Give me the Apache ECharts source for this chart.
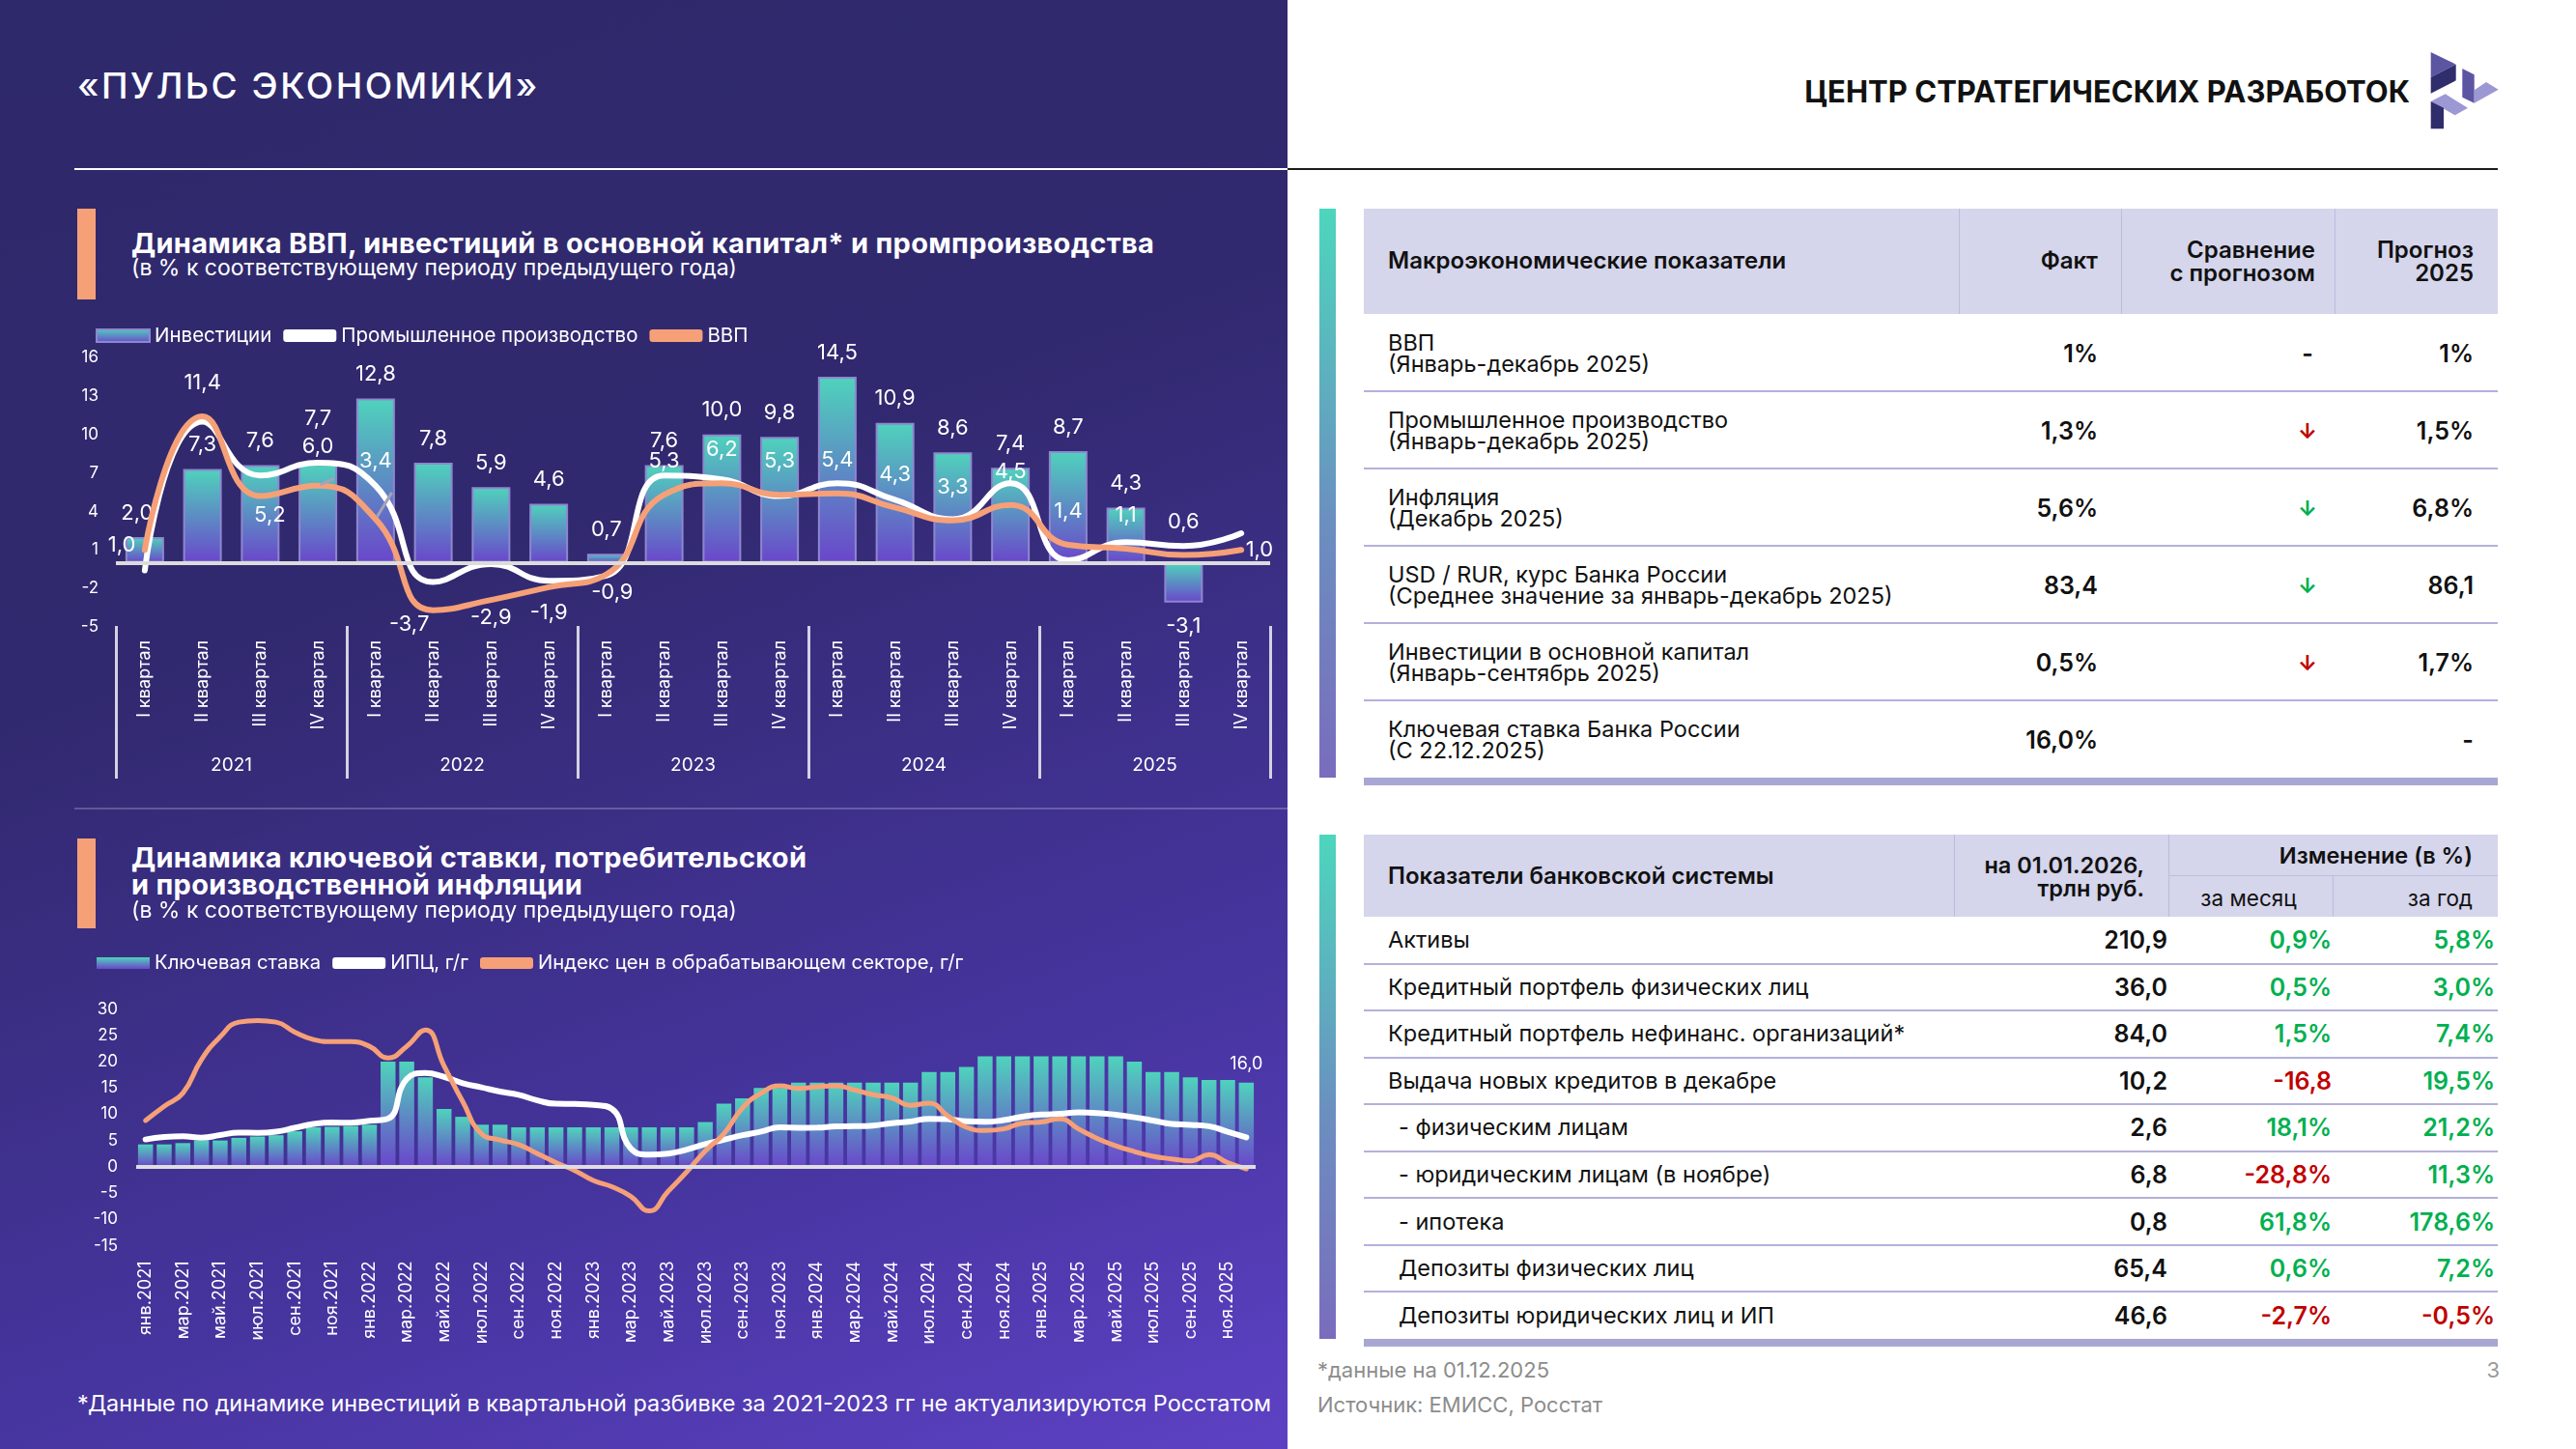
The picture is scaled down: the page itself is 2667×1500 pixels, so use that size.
<!DOCTYPE html>
<html lang="ru">
<head>
<meta charset="utf-8">
<title>Пульс экономики</title>
<script src="https://cdn.jsdelivr.net/npm/echarts@6.0.0/dist/echarts.min.js"></script>
<style>
  html, body { margin: 0; padding: 0; }
  body {
    width: 2667px; height: 1500px; position: relative; overflow: hidden;
    background: #fff; font-family: Inter, "Noto Sans", sans-serif;
  }
  .abs { position: absolute; white-space: nowrap; line-height: 1; }
  #left {
    position: absolute; left: 0; top: 0; width: 1333px; height: 1500px;
    background: linear-gradient(160deg, #2e296b 0%, #31296f 38%, #4735a0 75%, #5d41c4 100%);
  }
  #c1 { position: absolute; left: 0; top: 300px; width: 1333px; height: 530px; }
  #c2 { position: absolute; left: 0; top: 950px; width: 1333px; height: 450px; }
</style>
</head>
<body>
<div id="left"></div>
<div id="c1"></div>
<div id="c2"></div>

<svg class="abs" style="left:0;top:0" width="2667" height="160">
  <polygon points="2516.7,54 2542.7,66.7 2516.7,80" fill="#5b55a2"/>
  <polygon points="2516.7,80 2542.7,66.7 2542.7,83.3 2516.7,96.7" fill="#302d6c"/>
  <polygon points="2516.7,105 2531.7,97.3 2555,111.7 2541.7,119.3" fill="#9c98d4"/>
  <polygon points="2516.7,105 2530,111.7 2530,133.3 2516.7,133.3" fill="#302d6c"/>
  <polygon points="2549.3,71 2561.7,77.3 2561.7,106.7 2549.3,100.7" fill="#5b55a2"/>
  <polygon points="2561.7,93.3 2574,85 2586.7,92.7 2561.7,106.7" fill="#9c98d4"/>
</svg>

<script>
const FONT = 'Inter, "Noto Sans", sans-serif';

// ---- top chart: GDP, investments, industry (% y/y) ----
const quarterNames = ['I квартал', 'II квартал', 'III квартал', 'IV квартал'];
const years = ['2021', '2022', '2023', '2024', '2025'];
const investments = [2.0, 7.3, 7.6, 7.7, 12.8, 7.8, 5.9, 4.6, 0.7, 7.6,
                     10.0, 9.8, 14.5, 10.9, 8.6, 7.4, 8.7, 4.3, -3.1, null];
const industry = [-0.6, 11.0, 6.8, 7.8, 6.0, -1.5, -0.1, -1.4, -1.0, 6.8,
                  6.5, 5.2, 6.2, 4.9, 3.4, 6.2, 0.2, 1.6, 1.3, 2.3];
const gdp = [1.0, 11.4, 5.2, 6.0, 3.4, -3.7, -2.9, -1.9, -0.9, 5.3,
             6.2, 5.3, 5.4, 4.3, 3.3, 4.5, 1.4, 1.1, 0.6, 1.0];

// ---- bottom chart: key rate, CPI, manufacturing PPI ----
const monthNames = ['янв', 'фев', 'мар', 'апр', 'май', 'июн', 'июл', 'авг', 'сен', 'окт', 'ноя', 'дек'];
const keyRate = [4.25, 4.25, 4.5, 5.0, 5.0, 5.5, 5.75, 6.0, 6.75, 7.5, 7.6, 7.75,
                 8.0, 20, 20, 17, 11, 9.5, 8, 8, 7.5, 7.5, 7.5, 7.5,
                 7.5, 7.5, 7.5, 7.5, 7.5, 7.5, 8.5, 12, 13, 15, 15, 16,
                 16, 16, 16, 16, 16, 16, 18, 18, 19, 21, 21, 21,
                 21, 21, 21, 21, 21, 20, 18, 18, 17, 16.5, 16.5, 16];
const cpi = [5.19, 5.67, 5.79, 5.53, 6.02, 6.5, 6.46, 6.68, 7.4, 8.13, 8.4, 8.39,
             8.73, 9.15, 16.69, 17.83, 17.1, 15.9, 15.1, 14.3, 13.68, 12.63, 11.98, 11.94,
             11.77, 10.99, 3.51, 2.31, 2.51, 3.25, 4.3, 5.15, 6.0, 6.69, 7.48, 7.42,
             7.44, 7.69, 7.72, 7.84, 8.3, 8.59, 9.13, 9.05, 8.63, 8.54, 8.88, 9.52,
             9.92, 10.06, 10.34, 10.23, 9.88, 9.4, 8.79, 8.14, 7.98, 7.71, 6.64, 5.6];
const ppi = [8.8, 11.5, 14.0, 20.4, 24.7, 27.5, 27.8, 27.5, 25.6, 24.2, 23.8, 23.8,
             22.9, 20.7, 22.9, 26.0, 19.2, 12.4, 6.3, 5.1, 4.2, 2.5, 0.8, -0.7,
             -2.6, -3.8, -5.6, -8.4, -4.7, -1.0, 3.0, 6.3, 11.2, 14.0, 15.4, 14.9,
             15.2, 15.4, 14.6, 13.7, 13.1, 11.7, 12.1, 9.7, 7.5, 6.9, 7.2, 8.3,
             8.5, 9.1, 7.2, 5.4, 4.0, 2.9, 2.0, 1.5, 1.1, 2.3, 0.8, -0.4];

// ---- right tables ----
const macroNames = [
  ['ВВП', '(Январь-декабрь 2025)'],
  ['Промышленное производство', '(Январь-декабрь 2025)'],
  ['Инфляция', '(Декабрь 2025)'],
  ['USD / RUR, курс Банка России', '(Среднее значение за январь-декабрь 2025)'],
  ['Инвестиции в основной капитал', '(Январь-сентябрь 2025)'],
  ['Ключевая ставка Банка России', '(С 22.12.2025)']
];
const macroFact = ['1%', '1,3%', '5,6%', '83,4', '0,5%', '16,0%'];
const macroCompare = ['-', 'red', 'green', 'green', 'red', ''];
const macroForecast = ['1%', '1,5%', '6,8%', '86,1', '1,7%', '-'];

const bankNames = ['Активы', 'Кредитный портфель физических лиц', 'Кредитный портфель нефинанс. организаций*',
  'Выдача новых кредитов в декабре', ' - физическим  лицам', ' - юридическим лицам (в ноябре)', ' - ипотека',
  ' Депозиты физических лиц', ' Депозиты юридических лиц и ИП'];
const bankValue = ['210,9', '36,0', '84,0', '10,2', '2,6', '6,8', '0,8', '65,4', '46,6'];
const bankMonth = ['0,9%', '0,5%', '1,5%', '-16,8', '18,1%', '-28,8%', '61,8%', '0,6%', '-2,7%'];
const bankYear = ['5,8%', '3,0%', '7,4%', '19,5%', '21,2%', '11,3%', '178,6%', '7,2%', '-0,5%'];

const GREEN = '#00b050', RED = '#c00000';
const fmt = v => (v === null || v === undefined) ? '' : Number(v).toFixed(1).replace('.', ',');

function put(txt, x, y, o) {
  o = o || {};
  const d = document.createElement('div');
  d.className = 'abs';
  d.textContent = txt;
  const ax = o.align === 'right' ? '-100%' : (o.align === 'center' ? '-50%' : '0');
  d.style.left = x + 'px';
  d.style.top = y + 'px';
  d.style.transform = 'translate(' + ax + ',-50%)';
  d.style.fontSize = (o.size || 22) + 'px';
  d.style.fontWeight = o.weight || 400;
  d.style.color = o.color || '#111';
  if (o.ls) d.style.letterSpacing = o.ls + 'px';
  document.body.appendChild(d);
}
function box(x, y, w, h, bg) {
  const d = document.createElement('div');
  d.className = 'abs';
  d.style.cssText = 'left:' + x + 'px;top:' + y + 'px;width:' + w + 'px;height:' + h + 'px;background:' + bg;
  document.body.appendChild(d);
}

// header
put('«ПУЛЬС ЭКОНОМИКИ»', 80, 88, { size: 37, weight: 500, color: '#fff', ls: 2.5 });
put('ЦЕНТР СТРАТЕГИЧЕСКИХ РАЗРАБОТОК', 2495, 94, { size: 31, weight: 700, color: '#111', align: 'right' });
box(77, 174, 1256, 2, '#ffffff');
box(1333, 174, 1253, 2, '#1c1c1c');

// chart section titles
box(80, 216, 19, 94, '#f6a078');
put('Динамика ВВП, инвестиций в основной капитал* и промпроизводства', 136, 251, { size: 29, weight: 700, color: '#fff', ls: 0.3 });
put('(в % к соответствующему периоду предыдущего года)', 136, 277, { size: 23, color: '#fff' });
box(77, 836, 1256, 2, 'rgba(255,255,255,0.22)');
box(80, 868, 19, 93, '#f6a078');
put('Динамика ключевой ставки, потребительской', 136, 887, { size: 29, weight: 700, color: '#fff', ls: 0.3 });
put('и производственной инфляции', 136, 915, { size: 29, weight: 700, color: '#fff', ls: 0.3 });
put('(в % к соответствующему периоду предыдущего года)', 136, 942, { size: 23, color: '#fff' });
put('*Данные по динамике инвестиций в квартальной разбивке за 2021-2023 гг не актуализируются Росстатом',
    80, 1453, { size: 23.4, color: '#fff' });

// table 1
const accent = 'linear-gradient(180deg, #4dd6bd 0%, #6b8fc0 55%, #7a6cbd 100%)';
box(1366, 216, 17, 589, accent);
box(1412, 216, 1174, 109, '#d5d5eb');
[2028, 2196, 2417].forEach(x => box(x, 216, 1, 109, '#bdbce0'));
put('Макроэкономические показатели', 1437, 270, { size: 24, weight: 600 });
put('Факт', 2172, 270, { size: 24, weight: 600, align: 'right' });
put('Сравнение', 2397, 259, { size: 24, weight: 600, align: 'right' });
put('с прогнозом', 2397, 283, { size: 24, weight: 600, align: 'right' });
put('Прогноз', 2561, 259, { size: 24, weight: 600, align: 'right' });
put('2025', 2561, 283, { size: 24, weight: 600, align: 'right' });
macroNames.forEach((n, i) => {
  const top = 325 + i * 80;
  put(n[0], 1437, top + 30, { size: 23.5 });
  put(n[1], 1437, top + 52, { size: 23.5 });
  put(macroFact[i], 2172, top + 41, { size: 25, weight: 600, align: 'right' });
  const c = macroCompare[i];
  if (c === '-') put('-', 2389, top + 41, { size: 25, weight: 600, align: 'center' });
  else if (c) put('↓', 2389, top + 41, { size: 22, weight: 700, align: 'center', color: c === 'red' ? RED : GREEN });
  put(macroForecast[i], 2561, top + 41, { size: 25, weight: 600, align: 'right' });
  if (i < macroNames.length - 1) box(1412, top + 79, 1174, 2, '#b3b1db');
});
box(1412, 805, 1174, 8, '#a8a7d3');

// table 2
box(1366, 864, 17, 522, accent);
box(1412, 864, 1174, 85, '#d5d5eb');
box(2023, 864, 1, 85, '#bdbce0');
box(2245, 864, 1, 85, '#bdbce0');
box(2245, 906, 341, 1, '#bdbce0');
box(2415, 907, 1, 42, '#bdbce0');
put('Показатели банковской системы', 1437, 907, { size: 24, weight: 600 });
put('на 01.01.2026,', 2220, 896, { size: 23.5, weight: 600, align: 'right' });
put('трлн руб.', 2220, 920, { size: 23.5, weight: 600, align: 'right' });
put('Изменение (в %)', 2560, 886, { size: 23.5, weight: 600, align: 'right' });
put('за месяц', 2328, 930, { size: 22.5, align: 'center' });
put('за год', 2560, 930, { size: 22.5, align: 'right' });
const rowH = 48.55;
bankNames.forEach((n, i) => {
  const top = 949 + i * rowH;
  const cy = top + rowH / 2;
  const lead = n.startsWith(' ');
  put(n.trim(), lead ? 1448 : 1437, cy, { size: 23.5 });
  put(bankValue[i], 2244, cy, { size: 25, weight: 600, align: 'right' });
  put(bankMonth[i], 2414, cy, { size: 25, weight: 600, align: 'right', color: bankMonth[i].startsWith('-') ? RED : GREEN });
  put(bankYear[i], 2583, cy, { size: 25, weight: 600, align: 'right', color: bankYear[i].startsWith('-') ? RED : GREEN });
  if (i < bankNames.length - 1) box(1412, top + rowH - 1, 1174, 2, '#b3b1db');
});
box(1412, 1386, 1174, 8, '#a8a7d3');
put('*данные на 01.12.2025', 1364, 1418, { size: 22, color: '#8c8c8c' });
put('Источник: ЕМИСС, Росстат', 1364, 1454, { size: 22, color: '#8c8c8c' });
put('3', 2588, 1418, { size: 22, color: '#9a9a9a', align: 'right' });

// ---------- charts ----------
const barGrad = () => new echarts.graphic.LinearGradient(0, 0, 0, 1, [
  { offset: 0, color: '#4fd3bc' },
  { offset: 1, color: '#6a46cb' }
]);

const quarterCats = [];
years.forEach(y => quarterNames.forEach(q => quarterCats.push(y + '|' + q)));

const invData = investments.map((v, i) => {
  if (i === 0) return { value: v, label: { offset: [-8, 0] } };
  if (i === 3) return { value: v, label: { distance: 36 } };
  if (v !== null && v < 0) return { value: v, label: { position: 'bottom' } };
  return v;
});

// label placement of the GDP values, as in the source slide
const gdpLabelPos = {
  0: { position: 'left', distance: 7, offset: [0, -5] },
  2: { position: 'bottom', distance: 6, offset: [10, 0] },
  3: { position: 'top', distance: 27 },
  4: { position: 'top', distance: 47 },
  5: { position: 'bottom', distance: 1, offset: [-25, 0] },
  6: { position: 'bottom', distance: 5 },
  7: { position: 'bottom', distance: 13 },
  8: { position: 'bottom', distance: 5, offset: [6, 0] },
  19: { position: 'right', distance: 2 }
};
const gdpData = gdp.map((v, i) => {
  const p = gdpLabelPos[i];
  if (!p) return v;
  const item = { value: v, label: p };
  if (i === 3 || i === 4) item.labelLine = { show: true, lineStyle: { color: '#a4a3b8', width: 3 } };
  return item;
});

const chart1 = echarts.init(document.getElementById('c1'));
chart1.setOption({
  backgroundColor: 'transparent',
  animation: false,
  textStyle: { fontFamily: FONT },
  legend: {
    left: 94, top: 32, itemWidth: 55, itemHeight: 13, itemGap: 12,
    textStyle: { color: '#fff', fontSize: 20.5, fontFamily: FONT },
    data: [
      { name: 'Инвестиции', icon: 'rect' },
      { name: 'Промышленное производство', icon: 'roundRect' },
      { name: 'ВВП', icon: 'roundRect' }
    ]
  },
  grid: { left: 120, top: 70, width: 1195, height: 279 },
  xAxis: [
    {
      type: 'category', data: quarterCats,
      axisLine: { show: false }, axisTick: { show: false },
      axisLabel: { interval: 0, rotate: 90, margin: 14, color: '#fff', fontSize: 18,
                   formatter: v => v.split('|')[1] }
    },
    {
      type: 'category', data: years, position: 'bottom', offset: 157,
      axisLine: { show: false },
      axisTick: { show: true, inside: true, length: 158, lineStyle: { color: '#d2d2e2', width: 3 } },
      axisLabel: { inside: true, margin: 4, color: '#fff', fontSize: 19 }
    }
  ],
  yAxis: {
    type: 'value', min: -5, max: 16, interval: 3,
    axisLine: { show: false }, axisTick: { show: false }, splitLine: { show: false },
    axisLabel: { color: '#fff', fontSize: 17, margin: 18 }
  },
  series: [
    {
      name: 'Инвестиции', type: 'bar', data: invData, barWidth: 40,
      itemStyle: { color: barGrad(), borderColor: '#8e87cf', borderWidth: 2 },
      label: { show: true, position: 'top', distance: 14, color: '#fff', fontSize: 22,
               formatter: p => fmt(p.value) },
      markLine: {
        silent: true, symbol: 'none', label: { show: false },
        lineStyle: { color: '#dcdcdc', width: 4, type: 'solid' },
        data: [{ yAxis: 0 }]
      },
      z: 2
    },
    {
      name: 'Промышленное производство', type: 'line', data: industry, smooth: 0.5,
      symbol: 'none', color: '#ffffff',
      lineStyle: { color: '#ffffff', width: 6, cap: 'round' }, z: 3
    },
    {
      name: 'ВВП', type: 'line', data: gdpData, smooth: 0.5,
      symbol: 'circle', symbolSize: 5, color: '#f6a078',
      itemStyle: { color: '#f6a078' },
      lineStyle: { color: '#f6a078', width: 6, cap: 'round' },
      label: { show: true, position: 'top', distance: 21, color: '#fff', fontSize: 22,
               formatter: p => fmt(p.value) },
      z: 4
    }
  ]
});

const monthCats = [];
years.forEach(y => monthNames.forEach(m => monthCats.push(m + '.' + y)));
const rateData = keyRate.map((v, i) => i === keyRate.length - 1
  ? { value: v, label: { show: true, position: 'top', distance: 10, color: '#fff', fontSize: 18, formatter: p => fmt(p.value) } }
  : v);

const chart2 = echarts.init(document.getElementById('c2'));
chart2.setOption({
  backgroundColor: 'transparent',
  animation: false,
  textStyle: { fontFamily: FONT },
  legend: {
    left: 95, top: 32, itemWidth: 55, itemHeight: 12, itemGap: 12,
    textStyle: { color: '#fff', fontSize: 20.3, fontFamily: FONT },
    data: [
      { name: 'Ключевая ставка', icon: 'rect' },
      { name: 'ИПЦ, г/г', icon: 'roundRect' },
      { name: 'Индекс цен в обрабатывающем секторе, г/г', icon: 'roundRect' }
    ]
  },
  grid: { left: 141, top: 94.5, width: 1159, height: 245 },
  xAxis: {
    type: 'category', data: monthCats,
    axisLine: { show: false }, axisTick: { show: false },
    axisLabel: { interval: 1, rotate: 90, margin: 16, color: '#fff', fontSize: 18 }
  },
  yAxis: {
    type: 'value', min: -15, max: 30, interval: 5,
    axisLine: { show: false }, axisTick: { show: false }, splitLine: { show: false },
    axisLabel: { color: '#fff', fontSize: 17, margin: 19 }
  },
  series: [
    {
      name: 'Ключевая ставка', type: 'bar', data: rateData, barWidth: 15.5,
      itemStyle: { color: barGrad() },
      markLine: {
        silent: true, symbol: 'none', label: { show: false },
        lineStyle: { color: '#dedede', width: 4, type: 'solid' },
        data: [{ yAxis: 0 }]
      },
      z: 2
    },
    {
      name: 'ИПЦ, г/г', type: 'line', data: cpi, smooth: 0.5, symbol: 'none',
      color: '#ffffff', lineStyle: { color: '#ffffff', width: 6, cap: 'round' }, z: 3
    },
    {
      name: 'Индекс цен в обрабатывающем секторе, г/г', type: 'line', data: ppi, smooth: 0.5,
      symbol: 'none', color: '#f6a078',
      lineStyle: { color: '#f6a078', width: 5, cap: 'round' }, z: 4
    }
  ]
});
</script>
</body>
</html>
